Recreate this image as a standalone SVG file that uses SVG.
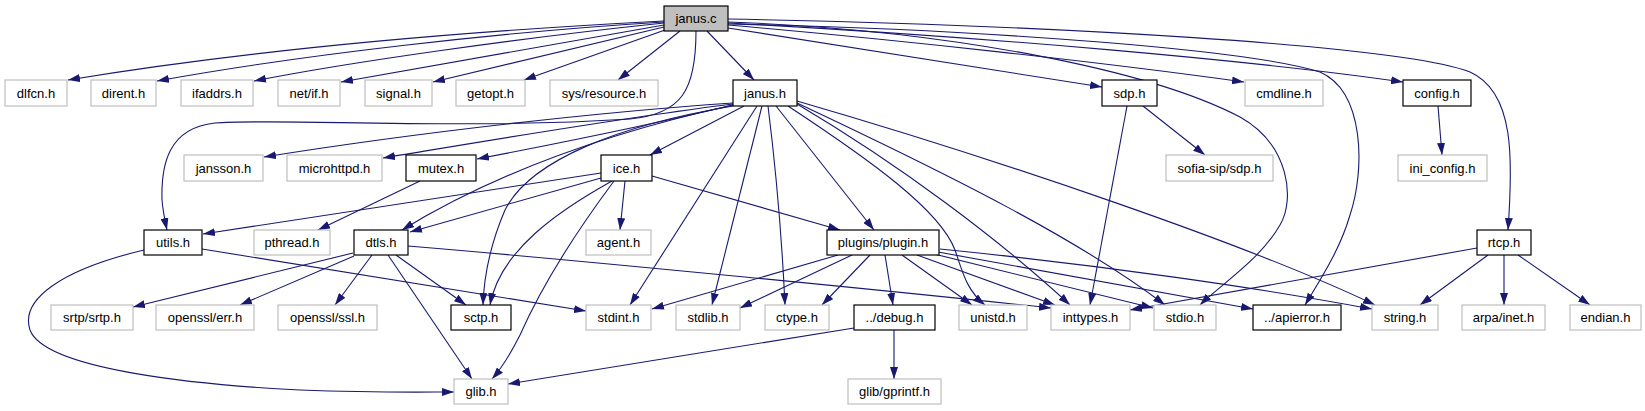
<svg xmlns="http://www.w3.org/2000/svg" width="1645" height="411" viewBox="0 0 1645 411">
<style>
.b rect{fill:#fff;stroke:#000;stroke-width:1.2}
.g rect{fill:#fff;stroke:#bfbfbf;stroke-width:1.2}
.r rect{fill:#bfbfbf;stroke:#000;stroke-width:1.2}
text{font-family:"Liberation Sans",Arial,sans-serif;font-size:13px;fill:#000;text-anchor:middle}
#edges path{fill:none;stroke:#191970;stroke-width:1.1;marker-end:url(#a)}
</style>
<defs>
<marker id="a" markerWidth="12" markerHeight="8" refX="12" refY="4" orient="auto" markerUnits="userSpaceOnUse" viewBox="0 0 12 8"><path d="M0,0 L12,4 L0,8 z" fill="#191970"/></marker>
</defs>
<rect width="1645" height="411" fill="#fff"/>
<g id="edges">
<path d="M664,21 C450,32 250,50 68,80"/>
<path d="M664,22 C500,32 300,55 157,81"/>
<path d="M664,23 C520,38 350,62 254,81"/>
<path d="M664,25 L341,82"/>
<path d="M664,27 L433,82"/>
<path d="M665,30 L524,80"/>
<path d="M680,31 L618,80"/>
<path d="M707,31 L754,80"/>
<path d="M696,31 C696,90 682,114 630,119 C460,130 280,118 215,123 C168,128 161,165 162,200 C163,212 165,221 167,230"/>
<path d="M728,28 L1102,87"/>
<path d="M728,25 C900,40 1100,62 1244,82"/>
<path d="M728,23 C1000,38 1250,60 1403,82"/>
<path d="M728,19 C1050,25 1400,45 1470,72 C1515,92 1513,160 1508,230"/>
<path d="M728,22 C950,30 1150,70 1240,117 C1290,145 1295,200 1280,225 C1260,260 1220,285 1200,305"/>
<path d="M728,24 C1000,30 1250,50 1320,72 C1365,92 1365,170 1350,215 C1340,250 1320,280 1305,305"/>
<path d="M733,103 C600,112 420,132 264,157"/>
<path d="M733,104 C620,118 480,142 383,158"/>
<path d="M733,105 C650,125 550,145 477,159"/>
<path d="M744,106 L650,155"/>
<path d="M733,105 C620,130 500,170 402,230"/>
<path d="M733,106 C620,125 530,160 505,210 C490,245 484,275 483,305"/>
<path d="M757,106 L630,305"/>
<path d="M762,106 L712,305"/>
<path d="M768,106 C776,170 782,240 785,305"/>
<path d="M776,106 L874,230"/>
<path d="M788,106 C870,160 940,210 955,250 C962,270 966,290 985,305"/>
<path d="M797,104 C900,165 1000,240 1070,305"/>
<path d="M797,103 C950,175 1080,240 1165,305"/>
<path d="M797,101 C1000,160 1250,245 1375,305"/>
<path d="M420,181 L318,230"/>
<path d="M601,173 L203,234"/>
<path d="M601,178 L410,232"/>
<path d="M612,181 C560,210 500,250 490,305"/>
<path d="M614,181 C570,240 540,290 520,335 C510,355 500,370 492,379"/>
<path d="M625,181 L620,230"/>
<path d="M652,176 L840,230"/>
<path d="M353,253 L133,307"/>
<path d="M354,256 L240,305"/>
<path d="M372,255 L335,305"/>
<path d="M396,255 L466,305"/>
<path d="M388,255 L472,379"/>
<path d="M408,246 C600,262 900,292 1051,308"/>
<path d="M202,249 L586,311"/>
<path d="M144,250 C60,270 20,300 30,330 C45,370 200,385 300,390 C380,393 420,392 454,392"/>
<path d="M838,255 L652,309"/>
<path d="M852,255 L740,308"/>
<path d="M870,255 L822,305"/>
<path d="M885,255 L893,305"/>
<path d="M902,255 L972,305"/>
<path d="M917,255 L1055,305"/>
<path d="M930,253 L1153,308"/>
<path d="M938,252 L1253,309"/>
<path d="M940,249 C1100,265 1260,288 1372,309"/>
<path d="M854,328 L508,384"/>
<path d="M894,330 L894,379"/>
<path d="M1127,106 L1090,305"/>
<path d="M1143,106 L1205,155"/>
<path d="M1438,106 L1442,155"/>
<path d="M1477,248 L1130,310"/>
<path d="M1488,255 L1420,305"/>
<path d="M1504,255 L1504,305"/>
<path d="M1518,255 L1590,305"/>
</g>
<g id="janus_c" class="r"><rect x="664" y="6" width="64" height="25"/><text x="696" y="23">janus.c</text></g>
<g id="dlfcn_h" class="g"><rect x="5" y="80" width="62" height="26"/><text x="36" y="97.5">dlfcn.h</text></g>
<g id="dirent_h" class="g"><rect x="91" y="80" width="65" height="26"/><text x="123.5" y="97.5">dirent.h</text></g>
<g id="ifaddrs_h" class="g"><rect x="181" y="80" width="72" height="26"/><text x="217" y="97.5">ifaddrs.h</text></g>
<g id="netif_h" class="g"><rect x="278" y="80" width="62" height="26"/><text x="309" y="97.5">net/if.h</text></g>
<g id="signal_h" class="g"><rect x="365" y="80" width="67" height="26"/><text x="398.5" y="97.5">signal.h</text></g>
<g id="getopt_h" class="g"><rect x="456" y="80" width="69" height="26"/><text x="490.5" y="97.5">getopt.h</text></g>
<g id="sysresource_h" class="g"><rect x="550" y="80" width="108" height="26"/><text x="604" y="97.5">sys/resource.h</text></g>
<g id="janus_h" class="b"><rect x="733" y="80" width="64" height="26"/><text x="765" y="97.5">janus.h</text></g>
<g id="sdp_h" class="b"><rect x="1102" y="80" width="55" height="26"/><text x="1129.5" y="97.5">sdp.h</text></g>
<g id="cmdline_h" class="g"><rect x="1245" y="80" width="78" height="26"/><text x="1284" y="97.5">cmdline.h</text></g>
<g id="config_h" class="b"><rect x="1403" y="80" width="68" height="26"/><text x="1437" y="97.5">config.h</text></g>
<g id="jansson_h" class="g"><rect x="184" y="155" width="79" height="26"/><text x="223.5" y="172.5">jansson.h</text></g>
<g id="microhttpd_h" class="g"><rect x="287" y="155" width="95" height="26"/><text x="334.5" y="172.5">microhttpd.h</text></g>
<g id="mutex_h" class="b"><rect x="406" y="155" width="70" height="26"/><text x="441" y="172.5">mutex.h</text></g>
<g id="ice_h" class="b"><rect x="601" y="155" width="51" height="26"/><text x="626.5" y="172.5">ice.h</text></g>
<g id="sofiasdp_h" class="g"><rect x="1166" y="155" width="107" height="26"/><text x="1219.5" y="172.5">sofia-sip/sdp.h</text></g>
<g id="ini_config_h" class="g"><rect x="1398" y="155" width="89" height="26"/><text x="1442.5" y="172.5">ini_config.h</text></g>
<g id="utils_h" class="b"><rect x="144" y="230" width="58" height="25"/><text x="173" y="247">utils.h</text></g>
<g id="pthread_h" class="g"><rect x="254" y="230" width="76" height="25"/><text x="292" y="247">pthread.h</text></g>
<g id="dtls_h" class="b"><rect x="354" y="230" width="54" height="25"/><text x="381" y="247">dtls.h</text></g>
<g id="agent_h" class="g"><rect x="586" y="230" width="65" height="25"/><text x="618.5" y="247">agent.h</text></g>
<g id="plugin_h" class="b"><rect x="827" y="230" width="112" height="25"/><text x="883" y="247">plugins/plugin.h</text></g>
<g id="rtcp_h" class="b"><rect x="1477" y="230" width="54" height="25"/><text x="1504" y="247">rtcp.h</text></g>
<g id="srtp_h" class="g"><rect x="51" y="305" width="82" height="25"/><text x="92" y="322">srtp/srtp.h</text></g>
<g id="opensslerr_h" class="g"><rect x="156" y="305" width="98" height="25"/><text x="205" y="322">openssl/err.h</text></g>
<g id="opensslssl_h" class="g"><rect x="278" y="305" width="99" height="25"/><text x="327.5" y="322">openssl/ssl.h</text></g>
<g id="sctp_h" class="b"><rect x="451" y="305" width="60" height="25"/><text x="481" y="322">sctp.h</text></g>
<g id="stdint_h" class="g"><rect x="586" y="305" width="65" height="25"/><text x="618.5" y="322">stdint.h</text></g>
<g id="stdlib_h" class="g"><rect x="676" y="305" width="64" height="25"/><text x="708" y="322">stdlib.h</text></g>
<g id="ctype_h" class="g"><rect x="765" y="305" width="64" height="25"/><text x="797" y="322">ctype.h</text></g>
<g id="debug_h" class="b"><rect x="854" y="305" width="81" height="25"/><text x="894.5" y="322">../debug.h</text></g>
<g id="unistd_h" class="g"><rect x="959" y="305" width="68" height="25"/><text x="993" y="322">unistd.h</text></g>
<g id="inttypes_h" class="g"><rect x="1051" y="305" width="79" height="25"/><text x="1090.5" y="322">inttypes.h</text></g>
<g id="stdio_h" class="g"><rect x="1154" y="305" width="62" height="25"/><text x="1185" y="322">stdio.h</text></g>
<g id="apierror_h" class="b"><rect x="1253" y="305" width="88" height="25"/><text x="1297" y="322">../apierror.h</text></g>
<g id="string_h" class="g"><rect x="1372" y="305" width="66" height="25"/><text x="1405" y="322">string.h</text></g>
<g id="arpainet_h" class="g"><rect x="1462" y="305" width="83" height="25"/><text x="1503.5" y="322">arpa/inet.h</text></g>
<g id="endian_h" class="g"><rect x="1570" y="305" width="71" height="25"/><text x="1605.5" y="322">endian.h</text></g>
<g id="glib_h" class="g"><rect x="454" y="379" width="54" height="25"/><text x="481" y="396">glib.h</text></g>
<g id="gprintf_h" class="g"><rect x="848" y="379" width="93" height="25"/><text x="894.5" y="396">glib/gprintf.h</text></g>
</svg>
